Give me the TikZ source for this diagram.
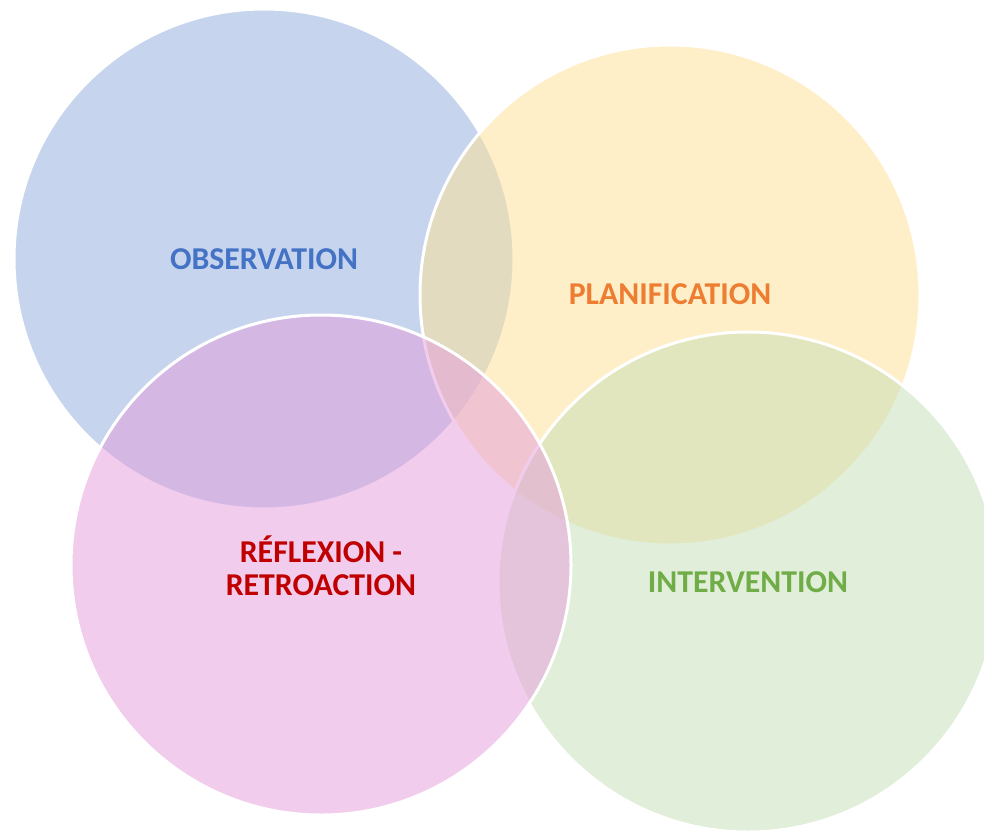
\documentclass[tikz,border=0pt]{standalone}
\usepackage{fontspec}
\setmainfont{Carlito}
\definecolor{obsfill}{RGB}{198,213,237}
\definecolor{planfill}{RGB}{255,225,147}
\definecolor{intfill}{RGB}{197,223,181}
\definecolor{reffill}{RGB}{229,155,221}
\definecolor{obstext}{HTML}{4472C4}
\definecolor{plantext}{HTML}{ED7D31}
\definecolor{inttext}{HTML}{70AD47}
\definecolor{reftext}{HTML}{C00000}
\begin{document}
\begin{tikzpicture}[x=1pt,y=-1pt,
  circ/.style={circle,draw=white,line width=3pt,minimum size=500pt,inner sep=0pt},
  lbl/.style={font=\fontsize{31.8}{33}\selectfont\bfseries,align=center,inner sep=0pt}]
\useasboundingbox (0,0) rectangle (984,832);
\fill[white] (0,0) rectangle (984,832);
\node[circ,fill=obsfill] (cobs) at (264,259) {};
\node[circ,fill=planfill,fill opacity=0.5] (cplan) at (670,295) {};
\node[circ,fill=intfill,fill opacity=0.5] (cint) at (748,582) {};
\node[circ,fill=reffill,fill opacity=0.5] (cref) at (321,565) {};
\node[lbl,text=obstext] (tobs) at (264,259) {OBSERVATION};
\node[lbl,text=plantext] (tplan) at (670,294) {PLANIFICATION};
\node[lbl,text=inttext] (tint) at (748,582) {INTERVENTION};
\node[lbl,text=reftext] (tref) at (321,566) {RÉFLEXION -\\RETROACTION};
\end{tikzpicture}
\end{document}
